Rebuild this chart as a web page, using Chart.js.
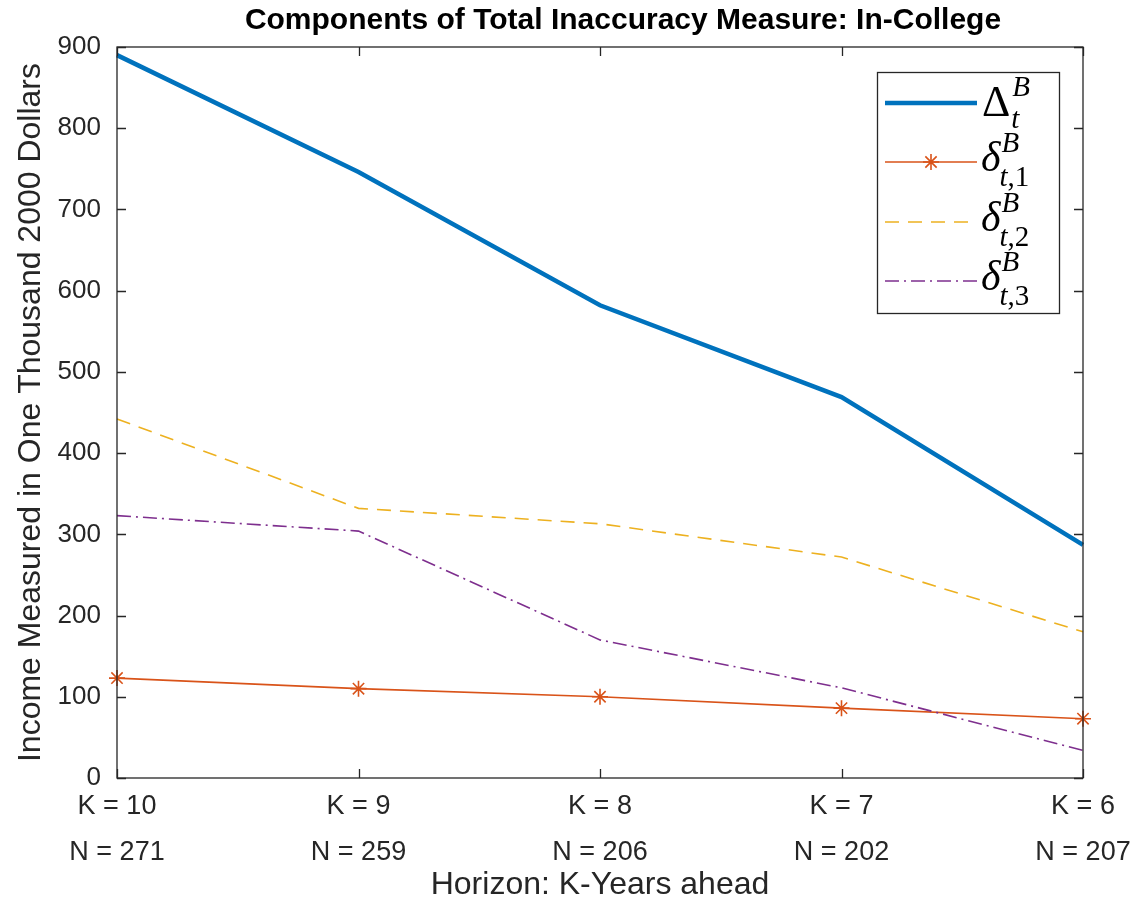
<!DOCTYPE html>
<html>
<head>
<meta charset="utf-8">
<script src="https://cdn.jsdelivr.net/npm/chart.js@4.4.1/dist/chart.umd.min.js"></script>
<style>
body{margin:0;background:#fff}
</style>
</head>
<body>
<canvas id="inaccuracyChart" width="1139" height="911"></canvas>
<script>
// values
const horizons = ['K = 10', 'K = 9', 'K = 8', 'K = 7', 'K = 6'];
const sampleSizes = ['N = 271', 'N = 259', 'N = 206', 'N = 202', 'N = 207'];
const totalDelta = [890, 746, 582, 469, 287];
const delta1 = [123, 110, 100, 86, 73];
const delta2 = [442, 332, 313, 272, 180];
const delta3 = [323, 304, 170, 111, 34];
const yTicks = [0, 100, 200, 300, 400, 500, 600, 700, 800, 900];
const chartTitle = 'Components of Total Inaccuracy Measure: In-College';

const blue = '#0072BD', orange = '#D95319', yellow = '#EDB120', purple = '#7E2F8E';
const axisColor = '#262626';
const sans = '"Liberation Sans", Arial, sans-serif';
const serif = '"Liberation Serif", "DejaVu Serif", serif';

const labels = horizons.map((h, i) => [h, sampleSizes[i]]);

// matlab style box, inward ticks, title and the math legend
const boxPlugin = {
    id: 'matlabBox',
    afterDatasetsDraw(chart){
        const ctx = chart.ctx;
        const a = chart.chartArea;
        const xs = chart.scales.x, ys = chart.scales.y;
        ctx.save();
        ctx.strokeStyle = axisColor;
        ctx.lineWidth = 1.3;
        ctx.strokeRect(a.left, a.top, a.right - a.left, a.bottom - a.top);
        ctx.beginPath();
        yTicks.forEach(v => {
            const y = Math.round(ys.getPixelForValue(v)) + 0.5;
            ctx.moveTo(a.left, y); ctx.lineTo(a.left + 9, y);
            ctx.moveTo(a.right, y); ctx.lineTo(a.right - 9, y);
        });
        horizons.forEach((h, i) => {
            const x = Math.round(xs.getPixelForValue(i)) + 0.5;
            ctx.moveTo(x, a.bottom); ctx.lineTo(x, a.bottom - 9);
            ctx.moveTo(x, a.top); ctx.lineTo(x, a.top + 9);
        });
        ctx.stroke();

        // title
        ctx.fillStyle = '#000';
        ctx.font = 'bold 30px ' + sans;
        ctx.textAlign = 'center';
        ctx.textBaseline = 'middle';
        ctx.fillText(chartTitle, 623, 21);

        // legend
        const lx = 877, ly = 72, lw = 182, lh = 241;
        ctx.fillStyle = '#fff';
        ctx.fillRect(lx, ly, lw, lh);
        ctx.strokeStyle = axisColor;
        ctx.lineWidth = 1.3;
        ctx.strokeRect(lx + 0.5, ly + 0.5, lw, lh);

        const rows = [
            {y: 103, color: blue, width: 4.5, dash: [], star: false, sub: ''},
            {y: 162, color: orange, width: 1.6, dash: [], star: true, sub: '1'},
            {y: 222, color: yellow, width: 1.6, dash: [14, 9], star: false, sub: '2'},
            {y: 281, color: purple, width: 1.6, dash: [14, 5, 2, 5], star: false, sub: '3'}
        ];
        rows.forEach((r, i) => {
            ctx.strokeStyle = r.color;
            ctx.lineWidth = r.width;
            ctx.setLineDash(r.dash);
            ctx.beginPath();
            ctx.moveTo(885, r.y); ctx.lineTo(977, r.y);
            ctx.stroke();
            ctx.setLineDash([]);
            if(r.star){
                ctx.lineWidth = 1.6;
                ctx.beginPath();
                for(let k = 0; k < 4; k++){
                    const ang = k * Math.PI / 4;
                    ctx.moveTo(931 - 8 * Math.cos(ang), r.y - 8 * Math.sin(ang));
                    ctx.lineTo(931 + 8 * Math.cos(ang), r.y + 8 * Math.sin(ang));
                }
                ctx.stroke();
            }
            ctx.fillStyle = '#000';
            ctx.textBaseline = 'alphabetic';
            ctx.textAlign = 'left';
            if(i === 0){
                ctx.font = '44px ' + serif;
                ctx.fillText('\u0394', 982, r.y + 13);
                const w = ctx.measureText('\u0394').width;
                ctx.font = 'italic 29px ' + serif;
                ctx.fillText('B', 982 + w + 2, r.y - 7);
                ctx.fillText('t', 982 + w + 1, r.y + 25);
            }else{
                ctx.font = 'italic 42px ' + serif;
                ctx.fillText('\u03B4', 981, r.y + 9);
                const w = ctx.measureText('\u03B4').width;
                ctx.font = 'italic 29px ' + serif;
                ctx.fillText('B', 981 + w + 1, r.y - 10);
                ctx.fillText('t', 981 + w - 1, r.y + 24);
                const tw = ctx.measureText('t').width;
                ctx.font = '29px ' + serif;
                ctx.fillText(',' + r.sub, 981 + w - 1 + tw, r.y + 24);
            }
        });
        ctx.restore();
    }
};

const config = {
    type: 'line',
    data: {
        labels: labels,
        datasets: [
            {
                label: 'Delta',
                data: totalDelta,
                borderColor: blue,
                borderWidth: 4.5,
                pointRadius: 0,
                order: 4
            },
            {
                label: 'delta1',
                data: delta1,
                borderColor: orange,
                backgroundColor: orange,
                borderWidth: 1.6,
                pointStyle: 'star',
                pointRadius: 8,
                pointBorderWidth: 1.6,
                order: 3
            },
            {
                label: 'delta2',
                data: delta2,
                borderColor: yellow,
                borderWidth: 1.6,
                borderDash: [14, 9],
                pointRadius: 0,
                order: 2
            },
            {
                label: 'delta3',
                data: delta3,
                borderColor: purple,
                borderWidth: 1.6,
                borderDash: [14, 5, 2, 5],
                pointRadius: 0,
                order: 1
            }
        ]
    },
    options: {
        responsive: false,
        animation: false,
        layout: {padding: {left: 0, right: 56, top: 47, bottom: 0}},
        plugins: {
            legend: {display: false},
            tooltip: {enabled: false},
            title: {display: false}
        },
        scales: {
            x: {
                type: 'category',
                offset: false,
                grid: {display: false, drawTicks: false},
                border: {display: false},
                ticks: {
                    color: axisColor,
                    font: {family: sans, size: 27, lineHeight: 1.7},
                    padding: 6,
                    maxRotation: 0,
                    autoSkip: false
                },
                title: {
                    display: true,
                    text: 'Horizon: K-Years ahead',
                    color: axisColor,
                    font: {family: sans, size: 32},
                    padding: {top: 0, bottom: 7}
                },
                afterFit(scale){ scale.height = 133; }
            },
            y: {
                min: 0,
                max: 900,
                grid: {display: false, drawTicks: false},
                border: {display: false},
                afterBuildTicks(scale){ scale.ticks = yTicks.map(v => ({value: v})); },
                ticks: {
                    color: axisColor,
                    font: {family: sans, size: 26},
                    padding: 16
                },
                title: {
                    display: true,
                    text: 'Income Measured in One Thousand 2000 Dollars',
                    color: axisColor,
                    font: {family: sans, size: 32},
                    padding: {top: 12, bottom: 0}
                },
                afterFit(scale){ scale.width = 117; }
            }
        }
    },
    plugins: [boxPlugin]
};

new Chart(document.getElementById('inaccuracyChart'), config);
</script>
</body>
</html>
